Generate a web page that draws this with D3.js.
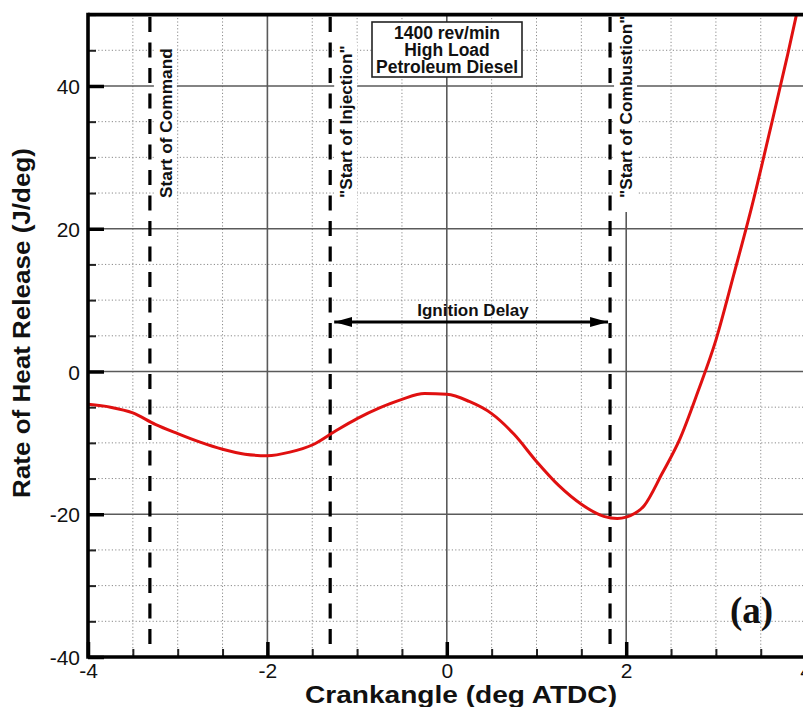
<!DOCTYPE html>
<html>
<head>
<meta charset="utf-8">
<script src="https://cdn.jsdelivr.net/npm/d3@7"></script>
<style>
  html, body { margin: 0; padding: 0; background: #fff; }
  svg { display: block; font-family: "Liberation Sans", Arial, Helvetica, sans-serif; }
</style>
</head>
<body>
<svg id="chart" width="803" height="707"></svg>
<script>
// Rate of heat release vs crank angle (1400 rev/min, high load, petroleum diesel)
const crankAngle = [-4.0, -3.75, -3.5, -3.25, -3.0, -2.75, -2.5, -2.25, -2.0, -1.75, -1.5, -1.25,
                    -1.0, -0.75, -0.5, -0.25, 0.0, 0.25, 0.5, 0.75, 1.0, 1.25, 1.5, 1.75, 1.9,
                    2.0, 2.2, 2.4, 2.6, 2.8, 3.0, 3.2, 3.4, 3.6, 3.8, 3.9, 4.0];
const heatRelease = [-4.6, -5.0, -5.8, -7.4, -8.7, -9.9, -10.9, -11.6, -11.8, -11.3, -10.3, -8.4,
                     -6.6, -5.1, -3.9, -3.1, -3.2, -4.2, -5.9, -8.8, -12.6, -16.0, -18.6, -20.3, -20.6,
                     -20.4, -18.8, -14.3, -9.4, -2.8, 4.4, 13.6, 23.1, 33.6, 44.4, 50.1, 56.0];

// Event markers (crank angle, label)
const eventAngles = [-3.31, -1.30, 1.82];
const eventLabels = ["Start of Command", "\"Start of Injection\"", "\"Start of Combustion\""];

// Axis ticks
const xMajorTicks = [-4, -2, 0, 2, 4];
const yMajorTicks = [-40, -20, 0, 20, 40];
const xMinorTicks = d3.range(-4, 4.01, 0.5);
const yMinorTicks = d3.range(-40, 50.01, 5);

const infoLines = ["1400 rev/min", "High Load", "Petroleum Diesel"];
const delayLabel = "Ignition Delay";
const panelLabel = "(a)";

const svg = d3.select("#chart");
const x = d3.scaleLinear().domain([-4, 4]).range([88, 805.6]);
const y = d3.scaleLinear().domain([-40, 50]).range([657, 14.6]);
const [x0, x1] = x.range();
const [yb, yt] = y.range();

const defs = svg.append("defs");
defs.append("clipPath").attr("id", "plotClip")
  .append("rect").attr("x", x0).attr("y", yt).attr("width", x1 - x0).attr("height", yb - yt);

// Minor dotted grid
const grid = svg.append("g");
grid.selectAll(".vmin").data(xMinorTicks.filter(v => !xMajorTicks.includes(v)))
  .join("line").attr("x1", d => x(d)).attr("x2", d => x(d)).attr("y1", yt).attr("y2", yb)
  .attr("stroke", "#8a8a8a").attr("stroke-width", 1).attr("stroke-dasharray", "1.2,2.2");
grid.selectAll(".hmin").data(yMinorTicks.filter(v => !yMajorTicks.includes(v)))
  .join("line").attr("x1", x0).attr("x2", x1).attr("y1", d => y(d)).attr("y2", d => y(d))
  .attr("stroke", "#8a8a8a").attr("stroke-width", 1).attr("stroke-dasharray", "1.2,2.2");

// Major solid grid
grid.selectAll(".vmaj").data(xMajorTicks.filter(v => v > -4 && v < 4))
  .join("line").attr("x1", d => x(d)).attr("x2", d => x(d)).attr("y1", yt).attr("y2", yb)
  .attr("stroke", "#5a5a5a").attr("stroke-width", 1.6);
grid.selectAll(".hmaj").data(yMajorTicks.filter(v => v > -40))
  .join("line").attr("x1", x0).attr("x2", x1).attr("y1", d => y(d)).attr("y2", d => y(d))
  .attr("stroke", "#5a5a5a").attr("stroke-width", 1.6);

// Rotated event labels on white backing
const labelG = svg.append("g");
eventAngles.forEach((a, i) => {
  const g = labelG.append("g");
  const bx = x(a) + 22, by = 198;
  const t = g.append("text")
    .attr("transform", `translate(${bx},${by}) rotate(-90)`)
    .attr("font-size", 17.3).attr("font-weight", "bold").attr("fill", "#111")
    .text(eventLabels[i]);
  const bb = t.node().getBBox();
  g.insert("rect", "text")
    .attr("x", bx + bb.y - 2).attr("y", by - bb.x - bb.width - 3)
    .attr("width", bb.height + 3).attr("height", bb.width + 17)
    .attr("fill", "#fff");
});

// Dashed event lines
svg.selectAll(".evt").data(eventAngles).join("line")
  .attr("x1", d => x(d)).attr("x2", d => x(d)).attr("y1", 17).attr("y2", 644)
  .attr("stroke", "#000").attr("stroke-width", 3.2).attr("stroke-dasharray", "15,10.5");

// Operating-condition box
const boxG = svg.append("g");
boxG.append("rect").attr("x", 372).attr("y", 22).attr("width", 150).attr("height", 55)
  .attr("fill", "#fff").attr("stroke", "#222").attr("stroke-width", 1.6);
boxG.selectAll("text").data(infoLines).join("text")
  .attr("x", 447).attr("y", (d, i) => 38.5 + i * 17.2)
  .attr("text-anchor", "middle").attr("font-size", 17.5).attr("font-weight", "bold").attr("fill", "#111")
  .text(d => d);

// Ignition delay arrow
defs.append("marker").attr("id", "arrowHead").attr("viewBox", "0 0 18 10")
  .attr("refX", 18).attr("refY", 5).attr("markerWidth", 18).attr("markerHeight", 10)
  .attr("markerUnits", "userSpaceOnUse").attr("orient", "auto-start-reverse")
  .append("path").attr("d", "M0,0 L18,5 L0,10 Z").attr("fill", "#000");
const arrowY = 322;
svg.append("line")
  .attr("x1", x(eventAngles[1]) + 4).attr("x2", x(eventAngles[2]) - 2)
  .attr("y1", arrowY).attr("y2", arrowY)
  .attr("stroke", "#000").attr("stroke-width", 3)
  .attr("marker-start", "url(#arrowHead)").attr("marker-end", "url(#arrowHead)");
svg.append("text").attr("x", 473).attr("y", 316).attr("text-anchor", "middle")
  .attr("font-size", 17).attr("font-weight", "bold").attr("fill", "#111").text(delayLabel);

// Heat release curve
const pts = crankAngle.map((c, i) => [c, heatRelease[i]]);
svg.append("path").datum(pts)
  .attr("clip-path", "url(#plotClip)")
  .attr("fill", "none").attr("stroke", "#e01010").attr("stroke-width", 3)
  .attr("stroke-linejoin", "round")
  .attr("d", d3.line().x(d => x(d[0])).y(d => y(d[1])).curve(d3.curveMonotoneX));

// Panel label
svg.append("text").attr("x", 730).attr("y", 623)
  .style("font-family", "'Liberation Serif', 'Times New Roman', serif")
  .attr("font-size", 37).attr("font-weight", "bold").attr("fill", "#111").text(panelLabel);

// Axes
const plainFmt = d => String(d);
const fontAxis = g => g.selectAll("text").attr("font-size", 21).attr("fill", "#111");

const xAxisMinor = svg.append("g").attr("transform", `translate(0,${yb})`)
  .call(d3.axisBottom(x).tickValues(xMinorTicks).tickSize(-8).tickFormat(""));
xAxisMinor.selectAll("line").attr("stroke", "#222").attr("stroke-width", 2);
xAxisMinor.select(".domain").remove();

const xAxis = svg.append("g").attr("transform", `translate(0,${yb})`)
  .call(d3.axisBottom(x).tickValues(xMajorTicks).tickSize(-15).tickPadding(6).tickFormat(plainFmt));
xAxis.selectAll("line").attr("stroke", "#000").attr("stroke-width", 3.5);
xAxis.select(".domain").remove();
xAxis.attr("font-family", null);
fontAxis(xAxis);

const yAxisMinor = svg.append("g").attr("transform", `translate(${x0},0)`)
  .call(d3.axisLeft(y).tickValues(yMinorTicks).tickSize(-8).tickFormat(""));
yAxisMinor.selectAll("line").attr("stroke", "#222").attr("stroke-width", 2);
yAxisMinor.select(".domain").remove();

const yAxis = svg.append("g").attr("transform", `translate(${x0},0)`)
  .call(d3.axisLeft(y).tickValues(yMajorTicks).tickSize(-16).tickPadding(8).tickFormat(plainFmt));
yAxis.selectAll("line").attr("stroke", "#000").attr("stroke-width", 3.5);
yAxis.select(".domain").remove();
yAxis.attr("font-family", null);
fontAxis(yAxis);
yAxis.selectAll("text").attr("dy", "0.36em");

// Frame
const frame = svg.append("g").attr("stroke", "#000").attr("stroke-width", 3.6).attr("fill", "none");
frame.append("line").attr("x1", x0).attr("x2", x0).attr("y1", yt - 1.8).attr("y2", yb + 1.8);
frame.append("line").attr("x1", x0).attr("x2", 803).attr("y1", yb).attr("y2", yb);
frame.append("line").attr("x1", x0).attr("x2", 803).attr("y1", yt).attr("y2", yt);

// Axis titles
svg.append("text").attr("x", 461).attr("y", 703).attr("text-anchor", "middle")
  .attr("font-size", 24).attr("font-weight", "bold").attr("fill", "#111")
  .attr("textLength", 312).attr("lengthAdjust", "spacingAndGlyphs")
  .text("Crankangle (deg ATDC)");
svg.append("text").attr("transform", "translate(30,323) rotate(-90)").attr("text-anchor", "middle")
  .attr("font-size", 24).attr("font-weight", "bold").attr("fill", "#111")
  .attr("textLength", 350).attr("lengthAdjust", "spacingAndGlyphs")
  .text("Rate of Heat Release (J/deg)");
</script>
</body>
</html>
